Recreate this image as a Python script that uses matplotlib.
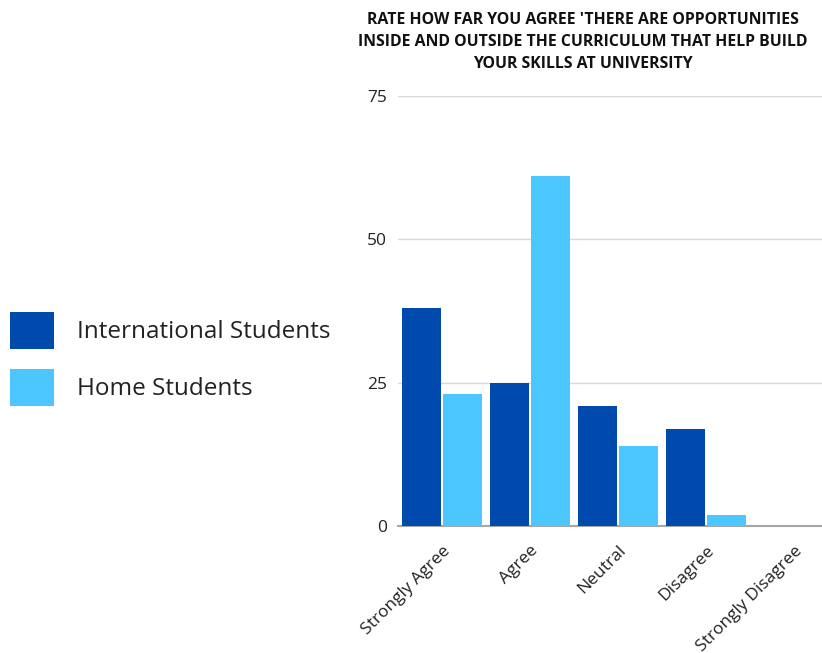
import numpy as np
import matplotlib
matplotlib.use('Agg')
import matplotlib.pyplot as plt

# chart data
categories = ['Strongly Agree', 'Agree', 'Neutral', 'Disagree', 'Strongly Disagree']
international = [38, 25, 21, 17, 0]
home = [23, 61, 14, 2, 0]
series_names = ['International Students', 'Home Students']
yticks = [0, 25, 50, 75]

dark_blue = '#004aad'
light_blue = '#4bc6ff'

plt.rcParams['font.family'] = ['Open Sans', 'DejaVu Sans']

fig = plt.figure(figsize=(8.22, 6.53), dpi=100)
ax = fig.add_axes([398 / 822, 1 - 526 / 653, 424 / 822, 430 / 653])

x = np.arange(len(categories))
w = 0.443
off = 0.233
ax.bar(x - off, international, width=w, color=dark_blue, label=series_names[0], zorder=3)
ax.bar(x + off, home, width=w, color=light_blue, label=series_names[1], zorder=3)

ax.set_xlim(-0.5, 4.32)
ax.set_ylim(0, 75)
ax.set_yticks(yticks)
ax.yaxis.grid(True, color='#d9d9d9', linewidth=1, zorder=0)
ax.tick_params(axis='both', length=0, labelsize=12.5, colors='#222222')
ax.tick_params(axis='y', pad=8)
ax.tick_params(axis='x', pad=12)
ax.set_xticks(x)
ax.set_xticklabels(categories, rotation=45, ha='right', rotation_mode='anchor')
for spine in ['top', 'right', 'left']:
    ax.spines[spine].set_visible(False)
ax.spines['bottom'].set_color('#a6a6a6')
ax.spines['bottom'].set_linewidth(1.5)

# title, three centred lines
fig.text(583 / 822, 1 - 42.5 / 653,
         "RATE HOW FAR YOU AGREE 'THERE ARE OPPORTUNITIES\n"
         "INSIDE AND OUTSIDE THE CURRICULUM THAT HELP BUILD\n"
         "YOUR SKILLS AT UNIVERSITY",
         ha='center', va='center', fontsize=11.4, fontweight='bold',
         linespacing=1.5, color='#111111')

leg = fig.legend(loc='center left', bbox_to_anchor=(0.012, 1 - 359 / 653),
                 frameon=False, fontsize=17.5, handlelength=1.8, handleheight=1.97,
                 labelspacing=0.82, handletextpad=0.95, borderaxespad=0, borderpad=0)
for t in leg.get_texts():
    t.set_color('#222222')

fig.savefig('out.png', dpi=100)
